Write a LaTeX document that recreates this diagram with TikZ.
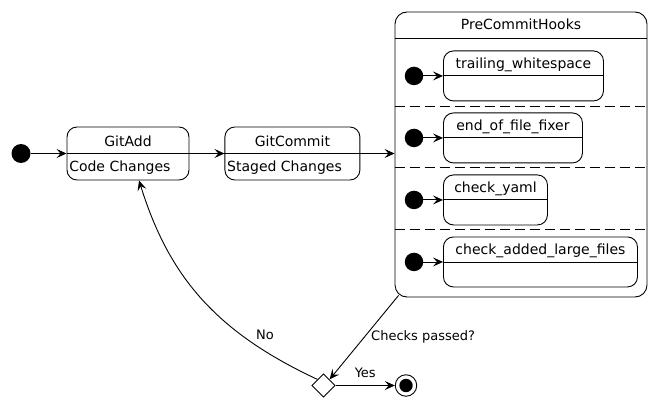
\documentclass[tikz,border=0pt]{standalone}
\usepackage{fontspec}
\setmainfont{DejaVu Sans}
\usetikzlibrary{arrows.meta,positioning,shapes.geometric}
\tikzset{
  transition/.style={line width=0.9pt,draw=black,-{Stealth[length=10pt,width=9pt,inset=4pt]}},
  startdot/.style={shape=circle,fill=black,minimum size=19pt,inner sep=0pt},
  enddot/.style={shape=circle,draw=black,line width=0.9pt,minimum size=21.5pt,inner sep=0pt,
    path picture={\fill[black] (path picture bounding box.center) circle (6.7pt);}},
  statebox/.style={shape=rectangle,draw=black,line width=0.9pt,rounded corners=10pt,inner sep=0pt},
  choicebox/.style={shape=diamond,draw=black,line width=0.9pt,minimum width=23.5pt,minimum height=23.5pt,inner sep=0pt},
  divider/.style={line width=0.9pt,draw=black},
  regionline/.style={line width=0.9pt,draw=black,dash pattern=on 10pt off 5pt},
  statename/.style={font=\fontsize{14}{17}\selectfont,inner sep=0pt,anchor=base},
  statebody/.style={font=\fontsize{14}{17}\selectfont,inner sep=0pt,anchor=base west},
  translabel/.style={font=\fontsize{13}{16}\selectfont,inner sep=1pt}
}
\begin{document}
\begin{tikzpicture}[x=1pt,y=-1pt]
  \useasboundingbox (0,0) rectangle (652,403);
  % top level states
  \node[startdot] (start) at (21,153.5) {};
  \node[statebox,minimum width=122pt,minimum height=53pt] (gitadd) at (128,153.5) {};
  \node[statebox,minimum width=135pt,minimum height=53pt,right=35pt of gitadd] (gitcommit) {};
  \node[statebox,minimum width=252pt,minimum height=285pt,rounded corners=12pt] (hooks) at (521,154.5) {};
  \draw[divider] (gitadd.west) -- (gitadd.east);
  \draw[divider] (gitcommit.west) -- (gitcommit.east);
  \draw[divider] (hooks.west |- 0,38) -- (hooks.east |- 0,38);
  \node[statename] (gitadd-name) at ([yshift=7pt]gitadd.center) {GitAdd};
  \node[statebody] (gitadd-body) at ([xshift=2.5pt,yshift=-18.5pt]gitadd.west) {Code Changes};
  \node[statename] (gitcommit-name) at ([yshift=7pt]gitcommit.center) {GitCommit};
  \node[statebody] (gitcommit-body) at ([xshift=2.5pt,yshift=-18.5pt]gitcommit.west) {Staged Changes};
  \node[statename] (hooks-name) at ([yshift=-18pt]hooks.north) {PreCommitHooks};
  % concurrent regions
  \foreach \y in {106,167,229}
    \draw[regionline] (hooks.west |- 0,\y) -- (hooks.east |- 0,\y);
  \foreach \i/\top/\boxw/\name in {1/50.5/160/trailing\_whitespace,2/112.5/139/end\_of\_file\_fixer,
      3/174.5/104/check\_yaml,4/236.5/194/check\_added\_large\_files} {
    \node[statebox,minimum width=\boxw pt,minimum height=50pt,anchor=north west] (hook\i) at (443,\top) {};
    \draw[divider] (hook\i.west) -- (hook\i.east);
    \node[statename] (hook\i-name) at ([yshift=7.5pt]hook\i.center) {\name};
    \node[startdot,minimum size=18.5pt] (hook\i-start) at ([xshift=-29pt]hook\i.west) {};
    \draw[transition] (hook\i-start) -- (hook\i.west);
  }
  % decision
  \node[choicebox] (check) at (323.5,385.5) {};
  \node[enddot] (end) at (406,385.5) {};
  % transitions
  \draw[transition] (start) -- (gitadd);
  \draw[transition] (gitadd) -- (gitcommit);
  \draw[transition] (gitcommit.east) -- (gitcommit.east -| hooks.west);
  \draw[transition] ([shift={(4pt,2pt)}]hooks.south west) -- (check.north east)
    node[translabel,pos=0.49,anchor=west,xshift=5pt] {Checks passed?};
  \draw[transition] (check.north west) .. controls (216,332) and (169,277) .. ([xshift=11pt]gitadd.south)
    node[translabel,pos=0.22,xshift=7pt,yshift=11.6pt] {No};
  \draw[transition] (check) -- (end) node[translabel,midway,above=6pt] {Yes};
\end{tikzpicture}
\end{document}
